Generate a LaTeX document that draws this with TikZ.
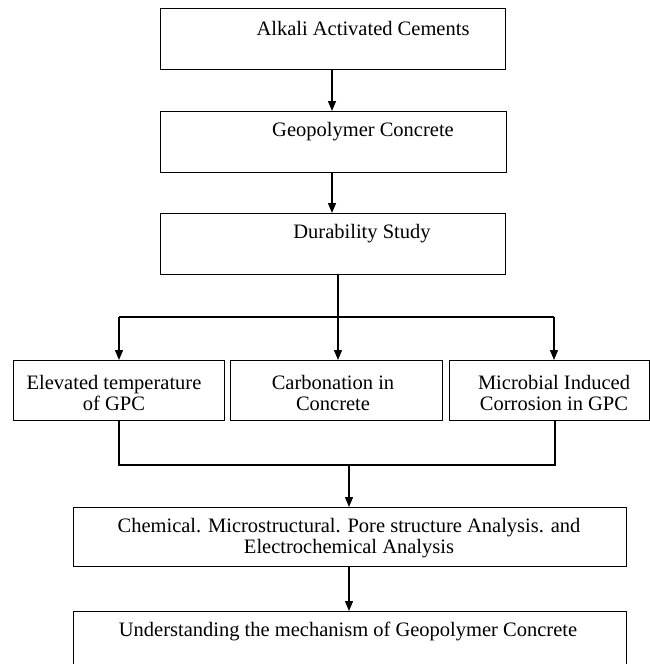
\documentclass[tikz,border=0pt]{standalone}
\usepackage{fontspec}
\setmainfont{Liberation Serif}
\usetikzlibrary{arrows.meta}
\begin{document}
\begin{tikzpicture}[x=1pt,y=-1pt,
  box/.style={draw=black,line width=1.3pt,rectangle,inner sep=0pt,anchor=north west},
  txt/.style={inner sep=0pt,align=center,font=\fontsize{20.5}{21.5}\selectfont},
  conn/.style={line width=1.3pt},
  arr/.style={line width=1.3pt,-{Triangle[length=10pt,width=8pt]}}]
\useasboundingbox (0,0) rectangle (650,664);
\clip (0,0) rectangle (650,664);
% boxes
\node[box,minimum width=345pt,minimum height=61pt] (b1) at (160,8) {};
\node[box,minimum width=346pt,minimum height=61pt] (b2) at (160,111) {};
\node[box,minimum width=345pt,minimum height=61pt] (b3) at (160,213) {};
\node[box,minimum width=211pt,minimum height=60pt] (e) at (13,360) {};
\node[box,minimum width=212pt,minimum height=60pt] (c) at (230,360) {};
\node[box,minimum width=200pt,minimum height=60pt] (m) at (449,360) {};
\node[box,minimum width=553pt,minimum height=59pt] (ch) at (73,507) {};
\node[box,minimum width=553pt,minimum height=75pt] (u) at (73,611) {};
% texts
\node[txt] (t1) at (363,28) {Alkali Activated Cements};
\node[txt] (t2) at (363,132) {Geopolymer Concrete};
\node[txt] (t3) at (362,234) {Durability Study};
\node[txt] (te) at (114,393) {Elevated temperature\\of GPC};
\node[txt] (tc) at (333,393) {Carbonation in\\Concrete};
\node[txt] (tm) at (554,393) {Microbial Induced\\Corrosion in GPC};
\node[txt] (tch) at (349,538) {Chemical. Microstructural. Pore structure Analysis. and\\Electrochemical Analysis};
\node[txt] (tu) at (348,631) {Understanding the mechanism of Geopolymer Concrete};
% junctions
\coordinate (j) at (338,317);
\coordinate (jl) at (119,317);
\coordinate (jr) at (554,317);
\coordinate (k) at (349,465);
\coordinate (kl) at (119,465);
\coordinate (kr) at (555,465);
% connectors
\draw[arr] (b1.south -| 332,0) -- (b2.north -| 332,0);
\draw[arr] (b2.south -| 332,0) -- (b3.north -| 332,0);
\draw[conn] (b3.south -| j) -- (j);
\draw[conn] (jl) -- (jr);
\draw[arr] (jl) -- (e.north -| jl);
\draw[arr] (j) -- (c.north -| j);
\draw[arr] (jr) -- (m.north -| jr);
\draw[conn] (e.south -| kl) -- (kl) -- (kr) -- (m.south -| kr);
\draw[arr] (k) -- (ch.north -| k);
\draw[arr] (ch.south -| k) -- (u.north -| k);
\end{tikzpicture}
\end{document}
